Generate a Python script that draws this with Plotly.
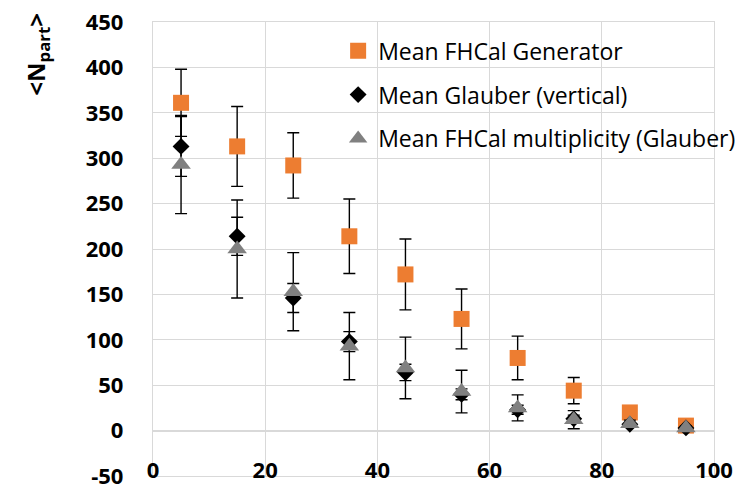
import plotly.graph_objects as go

# Centrality class midpoints (%)
centrality = [5, 15, 25, 35, 45, 55, 65, 75, 85, 95]

# Mean FHCal Generator
gen_mean = [361, 313, 292, 214, 172, 123, 80, 44, 20, 5.5]
gen_err = [37, 44, 36, 41, 39, 33, 24, 14.5, 7, 2]

# Mean Glauber (vertical)
glauber_mean = [313, 214, 146, 98, 64, 40, 23, 13, 7, 3]
glauber_err = [33, 21, 16, 11, 9, 6, 5, 4, 2, 1]

# Mean FHCal multiplicity (Glauber)
mult_mean = [293, 200, 153, 93, 69, 43, 25, 12, 7.5, 3]
mult_err = [54, 54, 43, 37, 34, 23.5, 14.3, 10, 4, 2]

series_names = [
    "Mean FHCal Generator",
    "Mean Glauber (vertical)",
    "Mean FHCal multiplicity (Glauber)",
]

# Axis ticks (plain hyphen for the negative label)
x_range = [0, 100]
y_range = [-50, 450]
x_ticks = [0, 20, 40, 60, 80, 100]
y_ticks = [-50, 0, 50, 100, 150, 200, 250, 300, 350, 400, 450]
y_tick_text = ["-50", "0", "50", "100", "150", "200", "250", "300", "350", "400", "450"]

FONT = "Open Sans"
GRID = "#d9d9d9"
TICKFONT = dict(family=FONT, size=22, color="#000000", weight="bold")


def err(arr):
    return dict(type="data", array=arr, visible=True, color="#000000",
                thickness=1.4, width=6)


fig = go.Figure()
# first series sits on the framed base axis, the others on the
# overlaid axis that crosses at y = 0 (same range, same scale)
fig.add_trace(go.Scatter(
    x=centrality, y=gen_mean, mode="markers", name=series_names[0],
    legendgroup="a", xaxis="x", yaxis="y",
    marker=dict(symbol="square", size=16, color="#ED7D31", line=dict(width=0)),
    error_y=err(gen_err),
))
fig.add_trace(go.Scatter(
    x=centrality, y=glauber_mean, mode="markers", name=series_names[1],
    legendgroup="b", xaxis="x2", yaxis="y",
    marker=dict(symbol="diamond", size=13, color="#000000", line=dict(width=0)),
    error_y=err(glauber_err),
))
fig.add_trace(go.Scatter(
    x=centrality, y=mult_mean, mode="markers", name=series_names[2],
    legendgroup="c", xaxis="x2", yaxis="y",
    marker=dict(symbol="triangle-up", size=17, color="#808080", line=dict(width=0)),
    error_y=err(mult_err),
))

fig.update_layout(
    width=748, height=487,
    margin=dict(l=153, r=34, t=22, b=11, autoexpand=False),
    plot_bgcolor="white", paper_bgcolor="white",
    font=dict(family=FONT, color="#000000"),
    showlegend=True,
    legend=dict(
        x=0.33, y=0.984, xanchor="left", yanchor="top",
        bgcolor="rgba(0,0,0,0)", font=dict(family=FONT, size=23, color="#000000"),
        tracegroupgap=11, itemsizing="trace",
    ),
    # plot-area frame and vertical gridlines
    xaxis=dict(
        range=x_range, tickvals=x_ticks, showticklabels=False,
        showgrid=True, gridcolor=GRID, gridwidth=1.4,
        zeroline=False, showline=True, mirror=True, linecolor=GRID, linewidth=1.4,
        anchor="y", automargin=False, ticks="", layer="below traces",
    ),
    # horizontal axis crossing at y = 0, labels just below it
    xaxis2=dict(
        range=x_range, tickvals=x_ticks, overlaying="x",
        showgrid=False, zeroline=False, showline=True, linecolor=GRID, linewidth=1.4,
        anchor="free", position=0.1, automargin=False, layer="below traces",
        ticks="", ticklabelstandoff=20, ticklabeloverflow="allow",
        tickfont=TICKFONT,
    ),
    yaxis=dict(
        range=y_range, tickvals=y_ticks, ticktext=y_tick_text,
        showgrid=True, gridcolor=GRID, gridwidth=1.4,
        zeroline=False, showline=True, mirror=True, linecolor=GRID, linewidth=1.4,
        automargin=False, ticklabeloverflow="allow", layer="below traces",
        ticks="", ticklabelstandoff=24,
        tickfont=TICKFONT,
    ),
    annotations=[dict(
        text="&lt;N<sub>part</sub>&gt;", textangle=-90,
        xref="paper", yref="paper", x=-0.207, y=0.93,
        xanchor="center", yanchor="middle", showarrow=False,
        font=dict(family=FONT, size=24, color="#000000", weight="bold"),
    )],
)

fig.write_html("out.html")
